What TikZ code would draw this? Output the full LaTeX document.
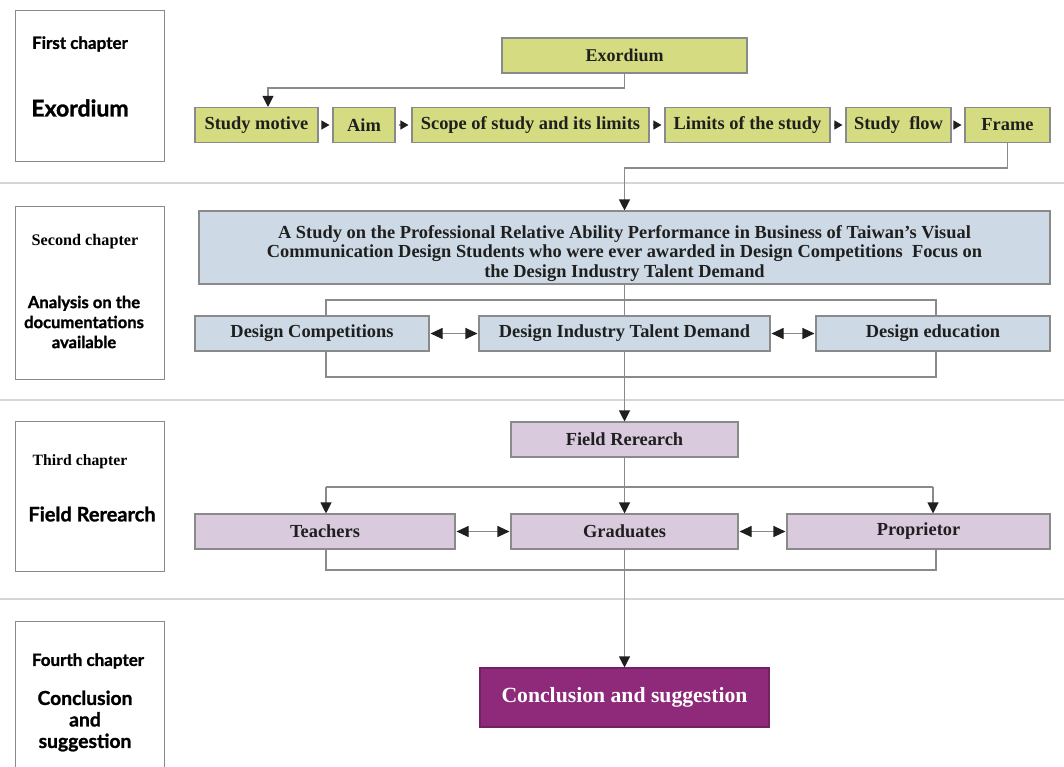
\documentclass[tikz,border=0pt]{standalone}
\usepackage{fontspec}
\setmainfont{Liberation Serif}
\newfontfamily\panelfont{Lato}[BoldFont={Lato Bold}, BoldFeatures={FakeBold=1.2}]
\usetikzlibrary{arrows.meta}

\definecolor{introgreen}{HTML}{D5DB80}
\definecolor{docblue}{HTML}{CDDAE5}
\definecolor{fieldlilac}{HTML}{D9CADD}
\definecolor{resultpurple}{HTML}{8E2A79}
\definecolor{edgegray}{HTML}{8A8A8A}
\definecolor{rulegray}{HTML}{D6D6D6}

\begin{document}
\begin{tikzpicture}[x=1pt, y=-1pt]

	\tikzstyle{box_node}=[rectangle, draw=edgegray, line width=1.1pt, inner sep=0pt, minimum height=35pt, text=black!88, font=\fontsize{18.4}{21}\selectfont\bfseries]
	\tikzstyle{intro_node}=[box_node, fill=introgreen]
	\tikzstyle{doc_node}=[box_node, fill=docblue]
	\tikzstyle{field_node}=[box_node, fill=fieldlilac]
	\tikzstyle{result_node}=[box_node, fill=resultpurple, draw=resultpurple!80!black, text=white, minimum height=59pt, font=\fontsize{21.7}{25}\selectfont\bfseries]
	\tikzstyle{chapter_box}=[rectangle, draw=edgegray, line width=1pt, minimum width=149pt, inner sep=0pt]
	\tikzstyle{chapter_serif}=[text=black, font=\fontsize{16.2}{18}\selectfont\bfseries]
	\tikzstyle{chapter_sans}=[text=black, align=center, font=\panelfont\fontsize{16.6}{20}\selectfont\bfseries]
	\tikzstyle{link_line}=[draw=edgegray, line width=1.1pt]
	\tikzstyle{down_arrow}=[link_line, -{Triangle[length=11pt, width=11pt, color=black!88]}]
	\tikzstyle{step_arrow}=[link_line, shorten <=3pt, shorten >=3pt, -{Triangle[length=8pt, width=9pt, color=black!88]}]
	\tikzstyle{both_arrow}=[link_line, shorten <=1pt, shorten >=1pt, {Triangle[length=12pt, width=11pt, color=black!88]}-{Triangle[length=12pt, width=11pt, color=black!88]}]
	\tikzstyle{rule_line}=[draw=rulegray, line width=1.5pt]

	\fill[white] (0,0) rectangle (1064,766);
	\useasboundingbox (0,0) rectangle (1064,766);

	% chapter column
	\node[chapter_box, minimum height=151pt] at (89.5, 85.5) (chapter_one) {};
	\node[chapter_box, minimum height=173pt] at (89.5, 292.5) (chapter_two) {};
	\node[chapter_box, minimum height=150pt] at (89.5, 496) (chapter_three) {};
	\node[chapter_box, minimum height=180pt] at (89.5, 711) (chapter_four) {};

	\node[chapter_sans, font=\panelfont\fontsize{17}{20}\selectfont\bfseries] at (80, 44) (one_title) {First chapter};
	\node[chapter_sans, font=\panelfont\fontsize{23}{26}\selectfont\bfseries] at (80, 108) (one_name) {Exordium};
	\node[chapter_serif] at (85, 242) (two_title) {Second chapter};
	\node[chapter_sans] at (84, 322) (two_name) {Analysis on the\\ documentations\\ available};
	\node[chapter_serif, font=\fontsize{15.7}{18}\selectfont\bfseries] at (80, 462) (three_title) {Third chapter};
	\node[chapter_sans, font=\panelfont\fontsize{20}{23}\selectfont\bfseries] at (92, 514) (three_name) {Field Rerearch};
	\node[chapter_sans, font=\panelfont\fontsize{17}{20}\selectfont\bfseries] at (88, 661) (four_title) {Fourth chapter};
	\node[chapter_sans, font=\panelfont\fontsize{19.3}{21.5}\selectfont\bfseries] at (85, 721) (four_name) {Conclusion\\ and\\ suggestion};

	\draw[rule_line] (0, 183) -- (1064, 183);
	\draw[rule_line] (0, 400) -- (1064, 400);
	\draw[rule_line] (0, 599) -- (1064, 599);

	% first chapter
	\node[intro_node, minimum width=245pt, font=\fontsize{18}{20}\selectfont\bfseries] at (624.5, 55.5) (exordium) {Exordium};
	\node[intro_node, minimum width=123pt] at (256.5, 125) (motive) {Study motive};
	\node[intro_node, minimum width=62pt] at (364, 125) (aim) {Aim};
	\node[intro_node, minimum width=237pt] at (530.5, 125) (scope) {Scope of study and its limits};
	\node[intro_node, minimum width=165pt] at (747.5, 125) (limits) {Limits of the study};
	\node[intro_node, minimum width=105pt] at (898.5, 125) (flow) {Study~ flow};
	\node[intro_node, minimum width=85pt] at (1007.5, 125) (frame) {Frame};

	\coordinate (exordium_turn) at (268, 88);
	\coordinate (frame_turn) at (624.5, 168);

	\draw[down_arrow] (exordium.south) |- (exordium_turn) -- (motive.north -| exordium_turn);
	\draw[step_arrow] (motive) -- (aim);
	\draw[step_arrow] (aim) -- (scope);
	\draw[step_arrow] (scope) -- (limits);
	\draw[step_arrow] (limits) -- (flow);
	\draw[step_arrow] (flow) -- (frame);

	% second chapter
	\node[doc_node, minimum width=851pt, minimum height=73pt, align=center, font=\fontsize{18.4}{19.5}\selectfont\bfseries] at (624.5, 247.5) (study) {\rule{0pt}{25pt}A Study on the Professional Relative Ability Performance in Business of Taiwan's Visual\\ Communication Design Students who were ever awarded in Design Competitions~ Focus on\\ the Design Industry Talent Demand};
	\node[doc_node, minimum width=234pt] at (312, 333.5) (competitions) {Design Competitions};
	\node[doc_node, minimum width=291pt] at (624.5, 333.5) (demand) {Design Industry Talent Demand};
	\node[doc_node, minimum width=234pt] at (933, 333.5) (education) {Design education};

	\draw[down_arrow] (frame.south) |- (frame_turn) -- (study.north);

	\coordinate (doc_top_left) at (326, 300);
	\coordinate (doc_top_right) at (936, 300);
	\coordinate (doc_bottom_left) at (326, 377);
	\coordinate (doc_bottom_right) at (936, 377);

	\draw[link_line] (competitions.north -| doc_top_left) -- (doc_top_left) -- (doc_top_right) -- (education.north -| doc_top_right);
	\draw[link_line] (competitions.south -| doc_bottom_left) -- (doc_bottom_left) -- (doc_bottom_right) -- (education.south -| doc_bottom_right);
	\draw[link_line] (study.south) -- (demand.north);
	\draw[both_arrow] (competitions) -- (demand);
	\draw[both_arrow] (demand) -- (education);

	% third chapter
	\node[field_node, minimum width=227pt] at (624.5, 439.5) (field) {Field Rerearch};
	\node[field_node, minimum width=260pt] at (325, 531.5) (teachers) {Teachers};
	\node[field_node, minimum width=227pt] at (624.5, 531.5) (graduates) {Graduates};
	\node[field_node, minimum width=263pt] at (918.5, 531.5) (proprietor) {Proprietor};

	\draw[down_arrow] (demand.south) -- (field.north);

	\coordinate (team_top_left) at (326, 487);
	\coordinate (team_top_right) at (933, 487);
	\coordinate (team_bottom_left) at (326, 570);
	\coordinate (team_bottom_right) at (936, 570);

	\draw[down_arrow] (field.south) -- (graduates.north);
	\draw[link_line] (team_top_left) -- (team_top_right);
	\draw[down_arrow] (team_top_left) -- (teachers.north -| team_top_left);
	\draw[down_arrow] (team_top_right) -- (proprietor.north -| team_top_right);
	\draw[link_line] (teachers.south -| team_bottom_left) -- (team_bottom_left) -- (team_bottom_right) -- (proprietor.south -| team_bottom_right);
	\draw[both_arrow] (teachers) -- (graduates);
	\draw[both_arrow] (graduates) -- (proprietor);

	% fourth chapter
	\node[result_node, minimum width=289pt] at (624.5, 697.5) (conclusion) {Conclusion and suggestion};

	\draw[down_arrow] (graduates.south) -- (conclusion.north);

\end{tikzpicture}
\end{document}
